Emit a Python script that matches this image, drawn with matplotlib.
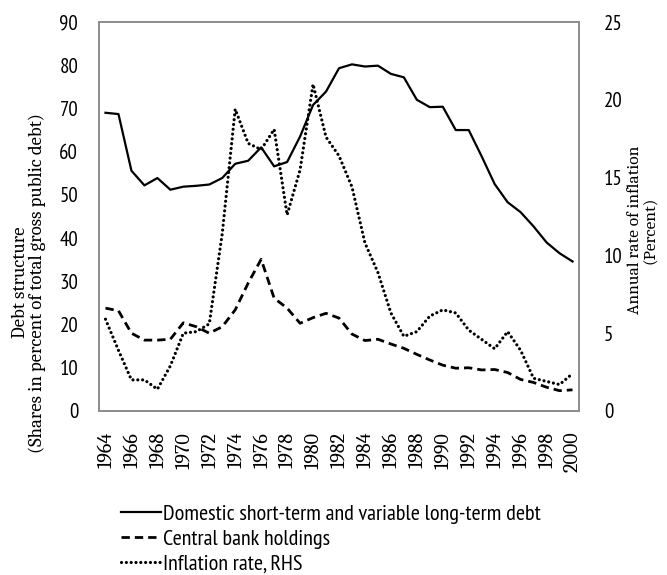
import numpy as np
import matplotlib
matplotlib.use("Agg")
import matplotlib.pyplot as plt

# ── data ───────────────────────────────────────────────────────────
years = list(range(1964, 2001))

domestic_debt = [69.0, 68.7, 55.6, 52.2, 53.9, 51.2, 51.9, 52.1, 52.4, 53.9,
                 57.2, 57.9, 61.0, 56.6, 57.6, 63.5, 70.8, 73.9, 79.3, 80.2,
                 79.7, 79.9, 78.0, 77.2, 72.0, 70.3, 70.4, 65.0, 65.0, 58.9,
                 52.5, 48.3, 46.0, 42.7, 39.0, 36.5, 34.6]

central_bank = [23.8, 23.2, 18.0, 16.4, 16.4, 16.6, 20.4, 19.5, 18.0, 19.5,
                23.4, 29.6, 35.1, 26.1, 23.8, 20.3, 21.6, 22.6, 21.5, 17.8,
                16.3, 16.6, 15.5, 14.5, 13.1, 11.8, 10.6, 9.9, 10.0, 9.5,
                9.6, 8.9, 7.3, 6.6, 5.5, 4.7, 4.9]

inflation = [5.9, 3.9, 2.0, 2.0, 1.4, 2.9, 5.0, 5.1, 5.6, 11.4,
             19.4, 17.2, 16.8, 18.1, 12.6, 15.5, 21.0, 17.6, 16.4, 14.4,
             10.8, 8.9, 6.3, 4.8, 5.1, 6.1, 6.5, 6.3, 5.2, 4.6,
             4.0, 5.1, 3.9, 2.1, 1.9, 1.7, 2.4]

series_labels = ["Domestic short-term and variable long-term debt",
                 "Central bank holdings",
                 "Inflation rate, RHS"]

# ── fonts ──────────────────────────────────────────────────────────
# narrow sans for tick numbers / legend, Cambria-like serif for titles
narrow = ["PT Sans Narrow", "DejaVu Sans"]
serif = ["Caladea", "DejaVu Serif"]
frame_col = "#8c8c8c"

W, H = 667, 575
fig = plt.figure(figsize=(W / 100, H / 100), dpi=100)
ax = fig.add_axes([99 / W, 1 - 411 / H, 480 / W, 389 / H])
ax2 = ax.twinx()

x = np.arange(len(years))
l1, = ax.plot(x, domestic_debt, color="black", lw=1.6, solid_joinstyle="round")
l2, = ax.plot(x, central_bank, color="black", lw=2.0,
              linestyle=(0, (3.0, 1.8)), dash_capstyle="butt")
l3, = ax2.plot(x, inflation, color="black", lw=2.3,
               linestyle=(0, (0.01, 1.5)), dash_capstyle="round")

ax.set_xlim(-0.5, len(years) - 0.5)
ax.set_ylim(0, 90)
ax2.set_ylim(0, 25)
ax.set_yticks(range(0, 91, 10))
ax2.set_yticks(range(0, 26, 5))
ax.set_xticks(x[::2])
ax.set_xticklabels([str(y) for y in years[::2]], rotation=90,
                   family=serif, fontsize=14.5)

for a in (ax, ax2):
    a.tick_params(length=0)
    for s in a.spines.values():
        s.set_color(frame_col)
        s.set_linewidth(1.2)
ax.tick_params(axis="x", pad=15)
ax.tick_params(axis="y", pad=15)
ax2.tick_params(axis="y", pad=18)
for lab in ax.get_yticklabels() + ax2.get_yticklabels():
    lab.set_family(narrow)
    lab.set_fontsize(15)

ax.set_ylabel("Debt structure\n(Shares in percent of total gross public debt)",
              family=serif, fontsize=13.5, linespacing=1.0)
ax.yaxis.set_label_coords(-0.11, 0.33)
ax2.set_ylabel("Annual rate of inflation\n(Percent)", family=serif,
               fontsize=12.5, linespacing=1.05)
ax2.yaxis.set_label_coords(1.1, 0.465)

fig.legend([l1, l2, l3], series_labels, loc="upper left",
           bbox_to_anchor=(121 / W, 1 - 504 / H), frameon=False,
           borderaxespad=0, borderpad=0, handlelength=1.8,
           handletextpad=0.1, labelspacing=0.26,
           prop={"family": narrow, "size": 16})

fig.savefig("out.png", dpi=100)
